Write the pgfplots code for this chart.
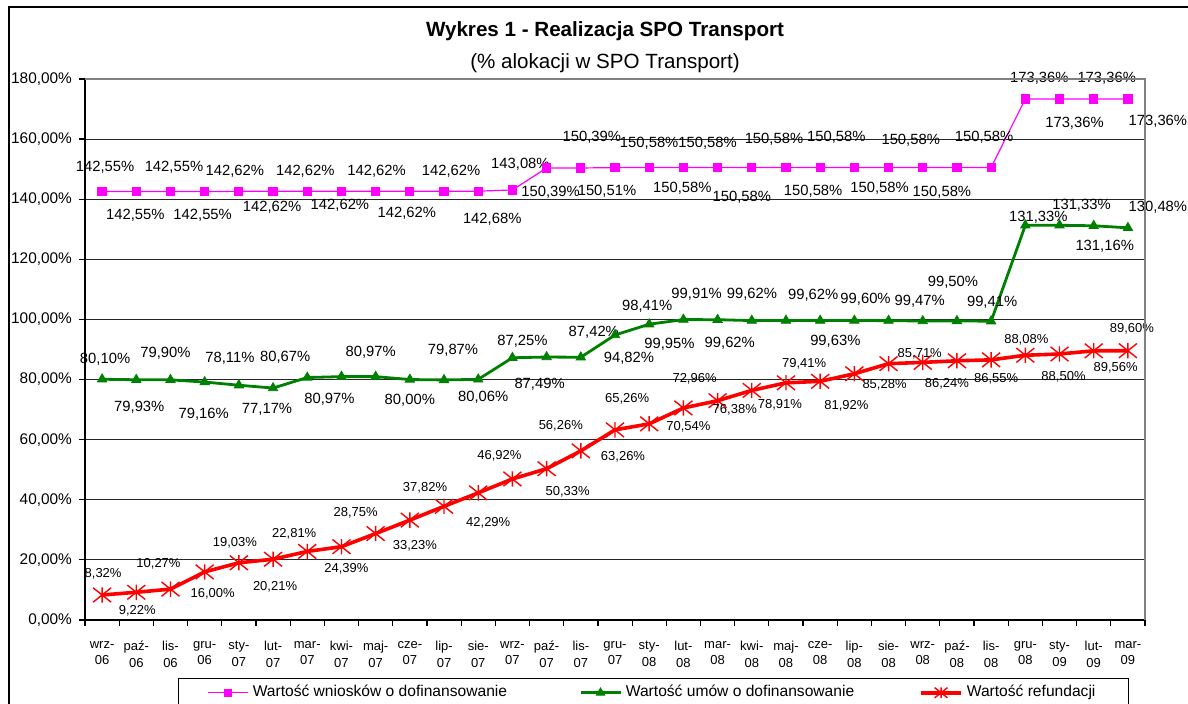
\documentclass[border=0pt]{standalone}
\usepackage{pgfplots}
\pgfplotsset{compat=1.18}
\usepackage{fontspec}
\setmainfont{Liberation Sans}
\definecolor{pinkc}{RGB}{255,0,255}
\definecolor{greenc}{RGB}{0,128,0}
\definecolor{redc}{RGB}{255,0,0}
\pgfdeclareplotmark{xstar}{%
  \pgfpathmoveto{\pgfqpoint{0pt}{-.85\pgfplotmarksize}}%
  \pgfpathlineto{\pgfqpoint{0pt}{.85\pgfplotmarksize}}%
  \pgfpathmoveto{\pgfqpoint{-\pgfplotmarksize}{-.8\pgfplotmarksize}}%
  \pgfpathlineto{\pgfqpoint{\pgfplotmarksize}{.8\pgfplotmarksize}}%
  \pgfpathmoveto{\pgfqpoint{-\pgfplotmarksize}{.8\pgfplotmarksize}}%
  \pgfpathlineto{\pgfqpoint{\pgfplotmarksize}{-.8\pgfplotmarksize}}%
  \pgfusepathqstroke}

\pgfplotsset{
  lbl/.style={
    forget plot,
    point meta=explicit,
    nodes near coords={\pgfmathprintnumber[fixed,fixed zerofill,precision=2,use comma,assume math mode=true]{\pgfplotspointmeta}\%},
    visualization depends on={value \thisrow{dx}\as\lblx},
    visualization depends on={value \thisrow{dy}\as\lbly},
    every node near coord/.append style={font=\fontsize{#1}{8}\selectfont, text=black, anchor=center, xshift={\lblx*0.5pt}, yshift={\lbly*0.5pt}}
  },
  pinkstyle/.style={pinkc, line width=0.6pt, mark=square*, mark size=2pt, mark options={solid, fill=pinkc, draw=pinkc}},
  greenstyle/.style={greenc, line width=1.4pt, mark=triangle*, mark size=2.7pt, mark options={solid, fill=greenc, draw=greenc, line width=0.4pt}},
  redstyle/.style={redc, line width=1.8pt, mark=xstar, mark size=4.5pt, mark options={solid, draw=redc, line width=0.7pt}},
}

\begin{document}
\begin{tikzpicture}
\useasboundingbox (-42.5pt,-42pt) rectangle (551.5pt,310pt);
\draw[black, line width=0.6pt] (-38pt,-80pt) -- (-38pt,306.5pt) -- (620pt,306.5pt);
\begin{axis}[
  at={(0pt,0pt)}, anchor=south west,
  scale only axis, width=530pt, height=270.5pt,
  xmin=-0.5, xmax=30.5, ymin=0, ymax=180,
  axis lines=left, axis line style={-, black, line width=0.6pt},
  tick align=outside, major tick length=3pt, minor tick length=3pt,
  tick style={black, line width=0.6pt},
  ytick={0,20,...,180},
  yticklabels={{0,00\%},{20,00\%},{40,00\%},{60,00\%},{80,00\%},{100,00\%},{120,00\%},{140,00\%},{160,00\%},{180,00\%}},
  yticklabel style={font=\fontsize{7.7}{8}\selectfont},
  ymajorgrids, grid style={black!85, line width=0.5pt},
  xtick={0,...,30},
  major x tick style={draw=none},
  minor xtick={-0.5,0.5,...,30.5},
  xticklabels={{wrz-\\06},{paź-\\06},{lis-\\06},{gru-\\06},{sty-\\07},{lut-\\07},{mar-\\07},{kwi-\\07},{maj-\\07},{cze-\\07},{lip-\\07},{sie-\\07},{wrz-\\07},{paź-\\07},{lis-\\07},{gru-\\07},{sty-\\08},{lut-\\08},{mar-\\08},{kwi-\\08},{maj-\\08},{cze-\\08},{lip-\\08},{sie-\\08},{wrz-\\08},{paź-\\08},{lis-\\08},{gru-\\08},{sty-\\09},{lut-\\09},{mar-\\09}},
  xticklabel style={align=center, font=\fontsize{6.5}{8.3}\selectfont, yshift=-4pt},
  clip=false,
  title={\textbf{Wykres 1 - Realizacja SPO Transport}\\(\% alokacji w SPO Transport)},
  title style={at={(0.5,1)}, anchor=center, yshift=10pt, xshift=-5pt, align=center, font=\fontsize{10.3}{16}\selectfont},
  legend columns=3,
  legend cell align=left,
  legend image code/.code={\draw[mark repeat=2,mark phase=2] plot coordinates {(0pt,0pt)(10pt,0pt)(20pt,0pt)};},
  legend style={at={(0.0877,-0.107)}, anchor=north west, draw=black, line width=0.6pt,
    font=\fontsize{7.8}{8}\selectfont, inner xsep=14.5pt, inner ysep=1.5pt,
    /tikz/column 2/.style={column sep=34pt}, /tikz/column 4/.style={column sep=30.5pt}},
  after end axis/.code={\draw[gray, line width=0.7pt] (rel axis cs:0,1) -- (rel axis cs:1,1) -- (rel axis cs:1,0);},
]
\addplot[pinkstyle, lbl=7.4] table[x=x,y=v,meta=v]{
x v dx dy
0 142.55 3 24
1 142.55 -1 -24
2 142.55 3.5 24
3 142.55 -2 -24
4 142.62 -4 20
5 142.62 -1 -16
6 142.62 -2 20
7 142.62 -1.5 -14
8 142.62 1 20
9 142.62 -3 -22
10 142.62 7 20
11 142.68 14 -28
12 143.08 8 26
13 150.39 4 -24
14 150.39 11 31
15 150.51 -8 -24
16 150.58 0 24
17 150.58 -1 -21
18 150.58 -10 24
19 150.58 -10 -30
20 150.58 -12 28
21 150.58 -7 -24
22 150.58 -18 30
23 150.58 -9 -21
24 150.58 -12 27
25 150.58 -15 -25
26 150.58 -7 30
27 173.36 14 21
28 173.36 15 -24
29 173.36 13 21
30 173.36 30 -22
};
\addplot[greenstyle, lbl=7.4] table[x=x,y=v,meta=v]{
x v dx dy
0 80.10 3 20
1 79.93 3 -28
2 79.90 -5 27
3 79.16 -1 -32
4 78.11 -9 27
5 77.17 -6 -21
6 80.67 -22 20
7 80.97 -12 -23
8 80.97 -5 24
9 80.00 0 -21
10 79.87 9 30
11 80.06 5 -18
12 87.25 10 16
13 87.49 -7 -27
14 87.42 13 25
15 94.82 14 -23
16 98.41 -2 18
17 99.95 -14 -25
18 99.91 -21 25
19 99.62 -22 -23
20 99.62 -34 26
21 99.62 -7 25
22 99.63 -19 -21
23 99.60 -23 21
24 99.47 -3 20
25 99.50 -4 39
26 99.41 1 19
27 131.33 13 8
28 131.33 22 20
29 131.16 11 -21
30 130.48 30 21
};
\addplot[redstyle, lbl=6.5] table[x=x,y=v,meta=v]{
x v dx dy
0 8.32 1 21
1 9.22 1 -19
2 10.27 -12 25
3 16.00 8 -22
4 19.03 -4 20
5 20.21 2 -28
6 22.81 -13 18
7 24.39 5 -22
8 28.75 -20 21
9 33.23 5 -26
10 37.82 -19 19
11 42.29 10 -30
12 46.92 -13 23
13 50.33 21 -23
14 56.26 -20 25
15 63.26 8 -27
16 65.26 -22 25
17 70.54 5 -19
18 72.96 -23 22
19 76.38 -17 -19
20 78.91 -6 -22
21 79.41 -16 18
22 81.92 -8 -32
23 85.28 -4 -21
24 85.71 -3 9
25 86.24 -10 -23
26 86.55 5 -19
27 88.08 1 15
28 88.50 4 -23
29 89.56 22 -17
30 89.60 4 22
};
\addlegendimage{pinkstyle, mark size=1.8pt}
\addlegendentry{Wartość wniosków o dofinansowanie}
\addlegendimage{greenstyle, mark size=2.4pt}
\addlegendentry{Wartość umów o dofinansowanie}
\addlegendimage{redstyle, mark size=3.2pt}
\addlegendentry{Wartość refundacji}
\end{axis}
\end{tikzpicture}
\end{document}
